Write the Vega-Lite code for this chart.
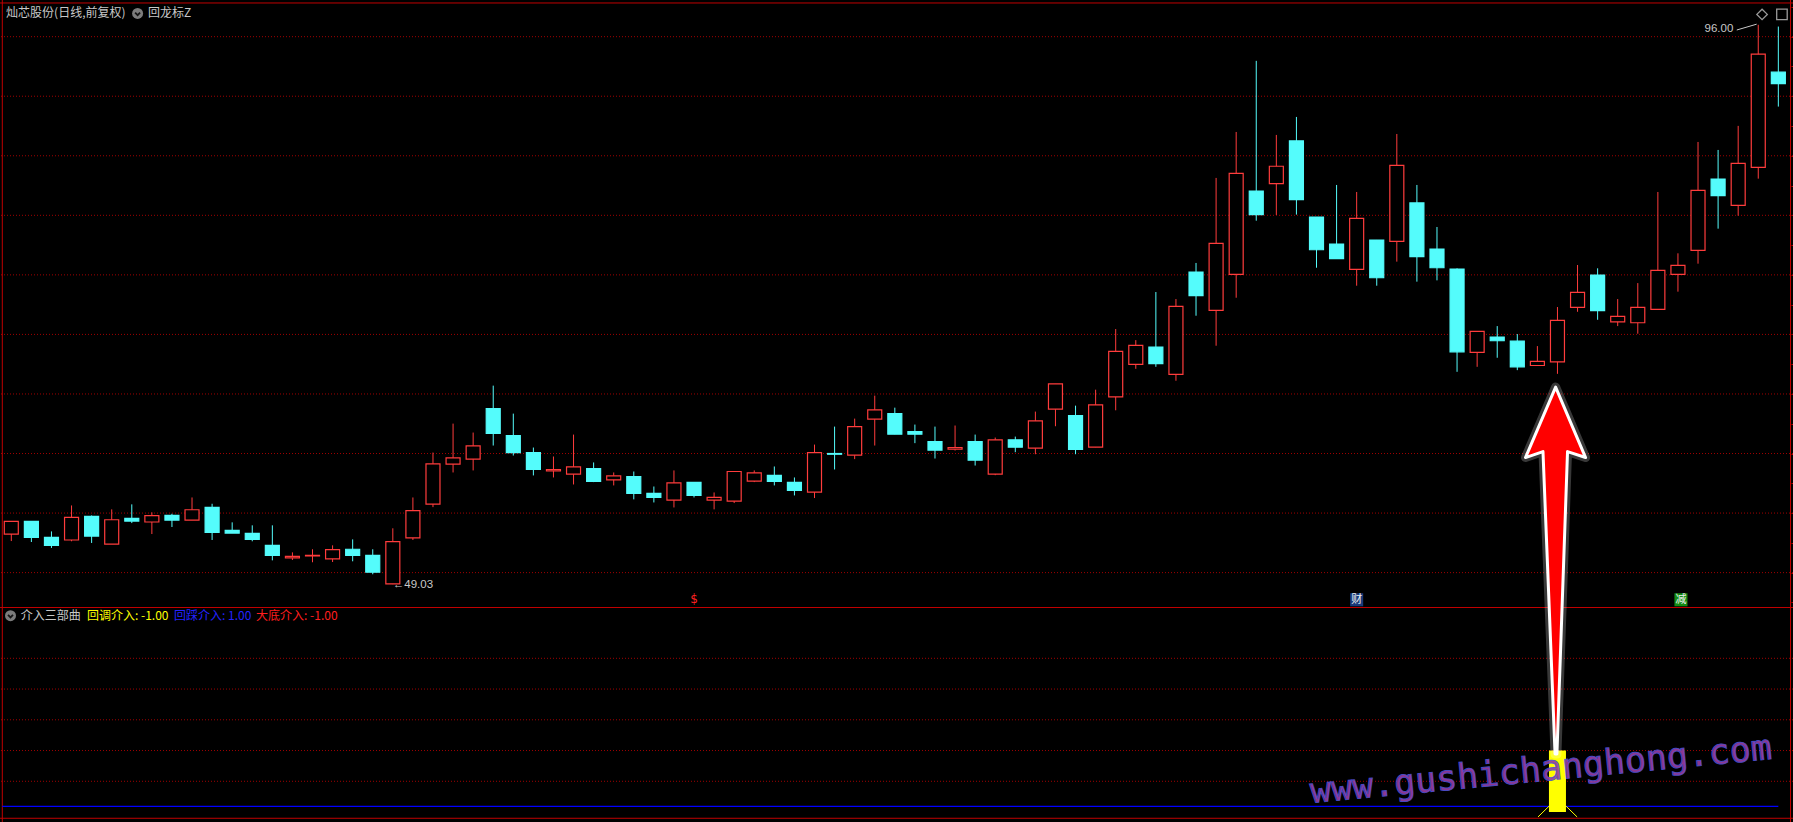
{
"$schema": "https://vega.github.io/schema/vega-lite/v6.json",
"width": 1793, "height": 822,
"autosize": {"type": "none"},
"padding": 0,
"background": "#000000",
"config": {"view": {"stroke": null}, "scale": {"continuousPadding": 0}},
"datasets": {
"candles": [
{"i":0,"o":53.24,"h":54.30,"l":52.65,"c":54.30},
{"i":1,"o":54.30,"h":54.30,"l":52.57,"c":52.96},
{"i":2,"o":52.96,"h":53.46,"l":52.07,"c":52.29},
{"i":3,"o":52.74,"h":55.64,"l":52.63,"c":54.64},
{"i":4,"o":54.72,"h":54.80,"l":52.49,"c":53.07},
{"i":5,"o":52.40,"h":55.31,"l":52.40,"c":54.44},
{"i":6,"o":54.55,"h":55.73,"l":54.16,"c":54.33},
{"i":7,"o":54.25,"h":55.06,"l":53.24,"c":54.78},
{"i":8,"o":54.80,"h":54.94,"l":53.83,"c":54.41},
{"i":9,"o":54.41,"h":56.31,"l":54.41,"c":55.28},
{"i":10,"o":55.47,"h":55.78,"l":52.74,"c":53.38},
{"i":11,"o":53.55,"h":54.22,"l":53.32,"c":53.32},
{"i":12,"o":53.30,"h":53.97,"l":52.63,"c":52.79},
{"i":13,"o":52.29,"h":53.97,"l":51.03,"c":51.45},
{"i":14,"o":51.23,"h":51.70,"l":51.06,"c":51.37},
{"i":15,"o":51.40,"h":51.96,"l":50.87,"c":51.45},
{"i":16,"o":51.15,"h":52.29,"l":50.89,"c":51.93},
{"i":17,"o":51.96,"h":52.79,"l":50.95,"c":51.45},
{"i":18,"o":51.45,"h":51.96,"l":49.86,"c":50.03},
{"i":19,"o":49.05,"h":53.72,"l":49.03,"c":52.60},
{"i":20,"o":52.91,"h":56.31,"l":52.74,"c":55.20},
{"i":21,"o":55.75,"h":60.08,"l":55.50,"c":59.13},
{"i":22,"o":59.11,"h":62.51,"l":58.41,"c":59.64},
{"i":23,"o":59.53,"h":61.76,"l":58.58,"c":60.64},
{"i":24,"o":63.77,"h":65.70,"l":60.67,"c":61.68},
{"i":25,"o":61.51,"h":63.35,"l":59.83,"c":60.08},
{"i":26,"o":60.08,"h":60.50,"l":58.16,"c":58.66},
{"i":27,"o":58.55,"h":59.75,"l":57.99,"c":58.66},
{"i":28,"o":58.27,"h":61.59,"l":57.40,"c":58.88},
{"i":29,"o":58.74,"h":59.25,"l":57.60,"c":57.65},
{"i":30,"o":57.79,"h":58.41,"l":57.32,"c":58.13},
{"i":31,"o":58.07,"h":58.49,"l":56.15,"c":56.65},
{"i":32,"o":56.65,"h":57.23,"l":55.89,"c":56.31},
{"i":33,"o":56.09,"h":58.58,"l":55.47,"c":57.54},
{"i":34,"o":57.57,"h":57.57,"l":56.31,"c":56.48},
{"i":35,"o":56.09,"h":56.73,"l":55.31,"c":56.31},
{"i":36,"o":56.01,"h":58.49,"l":55.84,"c":58.49},
{"i":37,"o":57.68,"h":58.58,"l":57.60,"c":58.38},
{"i":38,"o":58.16,"h":58.91,"l":57.32,"c":57.65},
{"i":39,"o":57.57,"h":57.99,"l":56.48,"c":56.90},
{"i":40,"o":56.76,"h":60.75,"l":56.26,"c":60.08},
{"i":41,"o":60.00,"h":62.26,"l":58.66,"c":59.94},
{"i":42,"o":59.86,"h":62.93,"l":59.53,"c":62.26},
{"i":43,"o":62.88,"h":64.86,"l":60.67,"c":63.66},
{"i":44,"o":63.35,"h":63.85,"l":61.62,"c":61.62},
{"i":45,"o":61.84,"h":62.43,"l":60.87,"c":61.62},
{"i":46,"o":61.01,"h":62.26,"l":59.58,"c":60.28},
{"i":47,"o":60.36,"h":62.35,"l":60.25,"c":60.50},
{"i":48,"o":61.01,"h":61.59,"l":58.99,"c":59.44},
{"i":49,"o":58.27,"h":61.34,"l":58.18,"c":61.15},
{"i":50,"o":61.15,"h":61.42,"l":60.11,"c":60.53},
{"i":51,"o":60.45,"h":63.52,"l":59.94,"c":62.74},
{"i":52,"o":63.72,"h":65.84,"l":62.29,"c":65.84},
{"i":53,"o":63.18,"h":64.02,"l":59.94,"c":60.34},
{"i":54,"o":60.53,"h":65.36,"l":60.53,"c":64.08},
{"i":55,"o":64.75,"h":70.45,"l":63.63,"c":68.57},
{"i":56,"o":67.48,"h":69.52,"l":67.11,"c":69.08},
{"i":57,"o":68.94,"h":73.56,"l":67.28,"c":67.54},
{"i":58,"o":66.64,"h":72.97,"l":66.11,"c":72.35},
{"i":59,"o":75.24,"h":76.00,"l":71.57,"c":73.25},
{"i":60,"o":72.02,"h":83.14,"l":69.05,"c":77.65},
{"i":61,"o":75.04,"h":87.00,"l":73.08,"c":83.53},
{"i":62,"o":82.04,"h":92.97,"l":79.55,"c":80.06},
{"i":63,"o":82.66,"h":86.75,"l":80.03,"c":84.12},
{"i":64,"o":86.25,"h":88.26,"l":80.06,"c":81.32},
{"i":65,"o":79.86,"h":79.86,"l":75.60,"c":77.11},
{"i":66,"o":77.59,"h":82.55,"l":76.36,"c":76.36},
{"i":67,"o":75.46,"h":81.96,"l":74.09,"c":79.75},
{"i":68,"o":77.93,"h":77.93,"l":74.09,"c":74.76},
{"i":69,"o":77.82,"h":86.83,"l":76.11,"c":84.20},
{"i":70,"o":81.04,"h":82.55,"l":74.43,"c":76.53},
{"i":71,"o":77.17,"h":79.02,"l":74.54,"c":75.60},
{"i":72,"o":75.49,"h":75.55,"l":66.86,"c":68.54},
{"i":73,"o":68.49,"h":70.25,"l":67.28,"c":70.25},
{"i":74,"o":69.78,"h":70.70,"l":68.04,"c":69.47},
{"i":75,"o":69.44,"h":70.03,"l":67.00,"c":67.28},
{"i":76,"o":67.39,"h":69.02,"l":67.39,"c":67.73},
{"i":77,"o":67.70,"h":72.30,"l":66.69,"c":71.18},
{"i":78,"o":72.27,"h":75.83,"l":71.90,"c":73.53},
{"i":79,"o":74.99,"h":75.55,"l":71.23,"c":71.99},
{"i":80,"o":71.06,"h":72.97,"l":70.70,"c":71.51},
{"i":81,"o":70.98,"h":74.31,"l":70.06,"c":72.27},
{"i":82,"o":72.10,"h":81.96,"l":72.10,"c":75.38},
{"i":83,"o":75.04,"h":76.81,"l":73.59,"c":75.80},
{"i":84,"o":77.06,"h":86.16,"l":75.94,"c":82.10},
{"i":85,"o":83.05,"h":85.49,"l":78.88,"c":81.65},
{"i":86,"o":80.84,"h":87.51,"l":79.97,"c":84.37},
{"i":87,"o":84.03,"h":96.00,"l":83.08,"c":93.53},
{"i":88,"o":92.02,"h":95.85,"l":89.13,"c":91.06}
]
},
"resolve": {"scale": {"y": "independent", "color": "independent"}},
"layer": [
{"layer": [
 {"data": {"values": [{"p":50},{"p":55},{"p":60},{"p":65},{"p":70},{"p":75},{"p":80},{"p":85},{"p":90},{"p":95}]},
  "mark": {"type": "rule", "color": "#a00000", "strokeDash": [1, 2], "strokeWidth": 1},
  "encoding": {"y": {"field": "p", "type": "quantitative", "scale": {"domain": [29.06, 98.08], "nice": false, "zero": false, "padding": 0}, "axis": {"orient": "right", "offset": -2, "domain": false, "grid": false, "labels": false, "ticks": true, "tickColor": "#c00000", "tickSize": 3, "values": [47.5,50,52.5,55,57.5,60,62.5,65,67.5,70,72.5,75,77.5,80,82.5,85,87.5,90,92.5,95,97.5], "title": null}}}},
 {"data": {"values": [{"p": 97.83}]},
  "mark": {"type": "rule", "color": "#c00000", "strokeWidth": 1},
  "encoding": {"y": {"field": "p", "type": "quantitative", "scale": {"domain": [29.06, 98.08], "nice": false, "zero": false, "padding": 0}, "axis": {"orient": "right", "offset": -2, "domain": false, "grid": false, "labels": false, "ticks": true, "tickColor": "#c00000", "tickSize": 3, "values": [47.5,50,52.5,55,57.5,60,62.5,65,67.5,70,72.5,75,77.5,80,82.5,85,87.5,90,92.5,95,97.5], "title": null}}}},
 {"data": {"values": [{"i": -0.448}, {"i": 88.607}]},
  "mark": {"type": "rule", "color": "#c00000", "strokeWidth": 1},
  "encoding": {"x": {"field": "i", "type": "quantitative", "scale": {"domain": [-0.563, 88.73], "nice": false, "zero": false, "padding": 0}, "axis": null}}},
 {"data": {"name": "candles"},
  "mark": {"type": "rule", "strokeWidth": 1},
  "encoding": {
   "x": {"field": "i", "type": "quantitative", "scale": {"domain": [-0.563, 88.73], "nice": false, "zero": false, "padding": 0}, "axis": null},
   "y": {"field": "l", "type": "quantitative", "scale": {"domain": [29.06, 98.08], "nice": false, "zero": false, "padding": 0}, "axis": {"orient": "right", "offset": -2, "domain": false, "grid": false, "labels": false, "ticks": true, "tickColor": "#c00000", "tickSize": 3, "values": [47.5,50,52.5,55,57.5,60,62.5,65,67.5,70,72.5,75,77.5,80,82.5,85,87.5,90,92.5,95,97.5], "title": null}},
   "y2": {"field": "h"},
   "color": {"condition": {"test": "datum.c >= datum.o", "value": "#ff3c3c"}, "value": "#54fcfc"}}},
 {"data": {"name": "candles"},
  "mark": {"type": "bar", "size": 14, "strokeWidth": 1.2},
  "encoding": {
   "x": {"field": "i", "type": "quantitative", "scale": {"domain": [-0.563, 88.73], "nice": false, "zero": false, "padding": 0}, "axis": null},
   "y": {"field": "o", "type": "quantitative", "scale": {"domain": [29.06, 98.08], "nice": false, "zero": false, "padding": 0}, "axis": {"orient": "right", "offset": -2, "domain": false, "grid": false, "labels": false, "ticks": true, "tickColor": "#c00000", "tickSize": 3, "values": [47.5,50,52.5,55,57.5,60,62.5,65,67.5,70,72.5,75,77.5,80,82.5,85,87.5,90,92.5,95,97.5], "title": null}},
   "y2": {"field": "c"},
   "fill": {"condition": {"test": "datum.c >= datum.o", "value": "#000000"}, "value": "#54fcfc"},
   "stroke": {"condition": {"test": "datum.c >= datum.o", "value": "#ff3c3c"}, "value": "#54fcfc"}}},
 {"data": {"values": [{"i": 34, "p": 47.2, "t": "$"}]},
  "mark": {"type": "text", "color": "#ff2020", "fontSize": 12, "font": "DejaVu Sans", "baseline": "bottom", "align": "center"},
  "encoding": {
   "x": {"field": "i", "type": "quantitative", "scale": {"domain": [-0.563, 88.73], "nice": false, "zero": false, "padding": 0}, "axis": null},
   "y": {"field": "p", "type": "quantitative", "scale": {"domain": [29.06, 98.08], "nice": false, "zero": false, "padding": 0}, "axis": {"orient": "right", "offset": -2, "domain": false, "grid": false, "labels": false, "ticks": true, "tickColor": "#c00000", "tickSize": 3, "values": [47.5,50,52.5,55,57.5,60,62.5,65,67.5,70,72.5,75,77.5,80,82.5,85,87.5,90,92.5,95,97.5], "title": null}},
   "text": {"field": "t"}}},
 {"data": {"values": [{"i": 67.0, "p": 47.72}]},
  "mark": {"type": "point", "shape": "square", "filled": true, "size": 170, "opacity": 1, "color": "#183a7a"},
  "encoding": {
   "x": {"field": "i", "type": "quantitative", "scale": {"domain": [-0.563, 88.73], "nice": false, "zero": false, "padding": 0}, "axis": null},
   "y": {"field": "p", "type": "quantitative", "scale": {"domain": [29.06, 98.08], "nice": false, "zero": false, "padding": 0}, "axis": {"orient": "right", "offset": -2, "domain": false, "grid": false, "labels": false, "ticks": true, "tickColor": "#c00000", "tickSize": 3, "values": [47.5,50,52.5,55,57.5,60,62.5,65,67.5,70,72.5,75,77.5,80,82.5,85,87.5,90,92.5,95,97.5], "title": null}}}},
 {"data": {"values": [{"i": 83.15, "p": 47.72}]},
  "mark": {"type": "point", "shape": "square", "filled": true, "size": 170, "opacity": 1, "color": "#148c14"},
  "encoding": {
   "x": {"field": "i", "type": "quantitative", "scale": {"domain": [-0.563, 88.73], "nice": false, "zero": false, "padding": 0}, "axis": null},
   "y": {"field": "p", "type": "quantitative", "scale": {"domain": [29.06, 98.08], "nice": false, "zero": false, "padding": 0}, "axis": {"orient": "right", "offset": -2, "domain": false, "grid": false, "labels": false, "ticks": true, "tickColor": "#c00000", "tickSize": 3, "values": [47.5,50,52.5,55,57.5,60,62.5,65,67.5,70,72.5,75,77.5,80,82.5,85,87.5,90,92.5,95,97.5], "title": null}}}},
 {"data": {"values": [{"i": 67.0, "p": 47.72, "t": "财"}, {"i": 83.15, "p": 47.72, "t": "减"}]},
  "mark": {"type": "text", "color": "#eeeeee", "fontSize": 11, "font": "Noto Sans CJK SC", "baseline": "middle", "align": "center"},
  "encoding": {
   "x": {"field": "i", "type": "quantitative", "scale": {"domain": [-0.563, 88.73], "nice": false, "zero": false, "padding": 0}, "axis": null},
   "y": {"field": "p", "type": "quantitative", "scale": {"domain": [29.06, 98.08], "nice": false, "zero": false, "padding": 0}, "axis": {"orient": "right", "offset": -2, "domain": false, "grid": false, "labels": false, "ticks": true, "tickColor": "#c00000", "tickSize": 3, "values": [47.5,50,52.5,55,57.5,60,62.5,65,67.5,70,72.5,75,77.5,80,82.5,85,87.5,90,92.5,95,97.5], "title": null}},
   "text": {"field": "t"}}},
 {"data": {"values": [{"i": 85.76, "p": 95.65, "t": "96.00"}]},
  "mark": {"type": "text", "color": "#c8c8c8", "fontSize": 11.5, "font": "Liberation Sans", "baseline": "middle", "align": "right"},
  "encoding": {
   "x": {"field": "i", "type": "quantitative", "scale": {"domain": [-0.563, 88.73], "nice": false, "zero": false, "padding": 0}, "axis": null},
   "y": {"field": "p", "type": "quantitative", "scale": {"domain": [29.06, 98.08], "nice": false, "zero": false, "padding": 0}, "axis": {"orient": "right", "offset": -2, "domain": false, "grid": false, "labels": false, "ticks": true, "tickColor": "#c00000", "tickSize": 3, "values": [47.5,50,52.5,55,57.5,60,62.5,65,67.5,70,72.5,75,77.5,80,82.5,85,87.5,90,92.5,95,97.5], "title": null}},
   "text": {"field": "t"}}},
 {"data": {"values": [{"i": 85.93, "p": 95.56, "i2": 86.92, "p2": 96.05}]},
  "mark": {"type": "rule", "color": "#c8c8c8", "strokeWidth": 1},
  "encoding": {
   "x": {"field": "i", "type": "quantitative", "scale": {"domain": [-0.563, 88.73], "nice": false, "zero": false, "padding": 0}, "axis": null},
   "x2": {"field": "i2"},
   "y": {"field": "p", "type": "quantitative", "scale": {"domain": [29.06, 98.08], "nice": false, "zero": false, "padding": 0}, "axis": {"orient": "right", "offset": -2, "domain": false, "grid": false, "labels": false, "ticks": true, "tickColor": "#c00000", "tickSize": 3, "values": [47.5,50,52.5,55,57.5,60,62.5,65,67.5,70,72.5,75,77.5,80,82.5,85,87.5,90,92.5,95,97.5], "title": null}},
   "y2": {"field": "p2"}}},
 {"data": {"values": [{"i": 19.0, "p": 48.95, "t": "←49.03"}]},
  "mark": {"type": "text", "color": "#c8c8c8", "fontSize": 11.5, "font": "Liberation Sans, DejaVu Sans", "baseline": "middle", "align": "left"},
  "encoding": {
   "x": {"field": "i", "type": "quantitative", "scale": {"domain": [-0.563, 88.73], "nice": false, "zero": false, "padding": 0}, "axis": null},
   "y": {"field": "p", "type": "quantitative", "scale": {"domain": [29.06, 98.08], "nice": false, "zero": false, "padding": 0}, "axis": {"orient": "right", "offset": -2, "domain": false, "grid": false, "labels": false, "ticks": true, "tickColor": "#c00000", "tickSize": 3, "values": [47.5,50,52.5,55,57.5,60,62.5,65,67.5,70,72.5,75,77.5,80,82.5,85,87.5,90,92.5,95,97.5], "title": null}},
   "text": {"field": "t"}}},
 {"data": {"values": [{"i": -0.26, "p": 96.95, "t": "灿芯股份(日线,前复权)"}, {"i": 6.81, "p": 96.95, "t": "回龙标Z"}]},
  "mark": {"type": "text", "color": "#c8c8c8", "fontSize": 12, "font": "Noto Sans CJK SC", "baseline": "middle", "align": "left"},
  "encoding": {
   "x": {"field": "i", "type": "quantitative", "scale": {"domain": [-0.563, 88.73], "nice": false, "zero": false, "padding": 0}, "axis": null},
   "y": {"field": "p", "type": "quantitative", "scale": {"domain": [29.06, 98.08], "nice": false, "zero": false, "padding": 0}, "axis": {"orient": "right", "offset": -2, "domain": false, "grid": false, "labels": false, "ticks": true, "tickColor": "#c00000", "tickSize": 3, "values": [47.5,50,52.5,55,57.5,60,62.5,65,67.5,70,72.5,75,77.5,80,82.5,85,87.5,90,92.5,95,97.5], "title": null}},
   "text": {"field": "t"}}},
 {"data": {"values": [{"i": 6.29, "p": 96.95}]},
  "mark": {"type": "point", "shape": "circle", "filled": true, "size": 121, "opacity": 1, "color": "#7c7c7c"},
  "encoding": {
   "x": {"field": "i", "type": "quantitative", "scale": {"domain": [-0.563, 88.73], "nice": false, "zero": false, "padding": 0}, "axis": null},
   "y": {"field": "p", "type": "quantitative", "scale": {"domain": [29.06, 98.08], "nice": false, "zero": false, "padding": 0}, "axis": {"orient": "right", "offset": -2, "domain": false, "grid": false, "labels": false, "ticks": true, "tickColor": "#c00000", "tickSize": 3, "values": [47.5,50,52.5,55,57.5,60,62.5,65,67.5,70,72.5,75,77.5,80,82.5,85,87.5,90,92.5,95,97.5], "title": null}}}},
 {"data": {"values": [{"i": 6.29, "p": 96.95}]},
  "mark": {"type": "point", "shape": "M-0.45,-0.15L0,0.3L0.45,-0.15", "filled": false, "size": 121, "opacity": 1, "color": "#161616", "strokeWidth": 1.8},
  "encoding": {
   "x": {"field": "i", "type": "quantitative", "scale": {"domain": [-0.563, 88.73], "nice": false, "zero": false, "padding": 0}, "axis": null},
   "y": {"field": "p", "type": "quantitative", "scale": {"domain": [29.06, 98.08], "nice": false, "zero": false, "padding": 0}, "axis": {"orient": "right", "offset": -2, "domain": false, "grid": false, "labels": false, "ticks": true, "tickColor": "#c00000", "tickSize": 3, "values": [47.5,50,52.5,55,57.5,60,62.5,65,67.5,70,72.5,75,77.5,80,82.5,85,87.5,90,92.5,95,97.5], "title": null}}}},
 {"data": {"values": [{"i": 87.19, "p": 96.87}]},
  "mark": {"type": "point", "shape": "diamond", "filled": false, "size": 110, "opacity": 1, "color": "#9a9a9a", "strokeWidth": 1.3},
  "encoding": {
   "x": {"field": "i", "type": "quantitative", "scale": {"domain": [-0.563, 88.73], "nice": false, "zero": false, "padding": 0}, "axis": null},
   "y": {"field": "p", "type": "quantitative", "scale": {"domain": [29.06, 98.08], "nice": false, "zero": false, "padding": 0}, "axis": {"orient": "right", "offset": -2, "domain": false, "grid": false, "labels": false, "ticks": true, "tickColor": "#c00000", "tickSize": 3, "values": [47.5,50,52.5,55,57.5,60,62.5,65,67.5,70,72.5,75,77.5,80,82.5,85,87.5,90,92.5,95,97.5], "title": null}}}},
 {"data": {"values": [{"i": 88.18, "p": 96.87}]},
  "mark": {"type": "point", "shape": "square", "filled": false, "size": 110, "opacity": 1, "color": "#9a9a9a", "strokeWidth": 1.3},
  "encoding": {
   "x": {"field": "i", "type": "quantitative", "scale": {"domain": [-0.563, 88.73], "nice": false, "zero": false, "padding": 0}, "axis": null},
   "y": {"field": "p", "type": "quantitative", "scale": {"domain": [29.06, 98.08], "nice": false, "zero": false, "padding": 0}, "axis": {"orient": "right", "offset": -2, "domain": false, "grid": false, "labels": false, "ticks": true, "tickColor": "#c00000", "tickSize": 3, "values": [47.5,50,52.5,55,57.5,60,62.5,65,67.5,70,72.5,75,77.5,80,82.5,85,87.5,90,92.5,95,97.5], "title": null}}}}
]},
{"layer": [
 {"data": {"values": [{"v": 1}, {"v": 2}, {"v": 3}, {"v": 4}, {"v": 5}]},
  "mark": {"type": "rule", "color": "#a00000", "strokeDash": [1, 2], "strokeWidth": 1},
  "encoding": {"y": {"field": "v", "type": "quantitative", "scale": {"domain": [-0.324, 26.41], "nice": false, "zero": false, "padding": 0}, "axis": null}}},
 {"data": {"values": [{"v": 6.652}, {"v": -0.203}]},
  "mark": {"type": "rule", "color": "#c00000", "strokeWidth": 1},
  "encoding": {"y": {"field": "v", "type": "quantitative", "scale": {"domain": [-0.324, 26.41], "nice": false, "zero": false, "padding": 0}, "axis": null}}},
 {"data": {"values": [{"i": -0.45, "i2": 88.0, "v": 0.187}]},
  "mark": {"type": "rule", "color": "#0000ff", "strokeWidth": 1.2},
  "encoding": {
   "x": {"field": "i", "type": "quantitative", "scale": {"domain": [-0.563, 88.73], "nice": false, "zero": false, "padding": 0}, "axis": null},
   "x2": {"field": "i2"},
   "y": {"field": "v", "type": "quantitative", "scale": {"domain": [-0.324, 26.41], "nice": false, "zero": false, "padding": 0}, "axis": null}}},
 {"data": {"values": [{"i": 77, "v": 0, "v2": 2}]},
  "mark": {"type": "bar", "size": 17, "color": "#ffff00"},
  "encoding": {
   "x": {"field": "i", "type": "quantitative", "scale": {"domain": [-0.563, 88.73], "nice": false, "zero": false, "padding": 0}, "axis": null},
   "y": {"field": "v", "type": "quantitative", "scale": {"domain": [-0.324, 26.41], "nice": false, "zero": false, "padding": 0}, "axis": null},
   "y2": {"field": "v2"}}},
 {"data": {"values": [{"i": 76.03, "v": -0.16, "i2": 76.58, "v2": 0.19}, {"i": 77.43, "v": 0.19, "i2": 77.98, "v2": -0.16}]},
  "mark": {"type": "rule", "color": "#ffff00", "strokeWidth": 1},
  "encoding": {
   "x": {"field": "i", "type": "quantitative", "scale": {"domain": [-0.563, 88.73], "nice": false, "zero": false, "padding": 0}, "axis": null},
   "x2": {"field": "i2"},
   "y": {"field": "v", "type": "quantitative", "scale": {"domain": [-0.324, 26.41], "nice": false, "zero": false, "padding": 0}, "axis": null},
   "y2": {"field": "v2"}}},
 {"data": {"values": [{"i": -0.04, "v": 6.385}]},
  "mark": {"type": "point", "shape": "circle", "filled": true, "size": 121, "opacity": 1, "color": "#7c7c7c"},
  "encoding": {
   "x": {"field": "i", "type": "quantitative", "scale": {"domain": [-0.563, 88.73], "nice": false, "zero": false, "padding": 0}, "axis": null},
   "y": {"field": "v", "type": "quantitative", "scale": {"domain": [-0.324, 26.41], "nice": false, "zero": false, "padding": 0}, "axis": null}}},
 {"data": {"values": [{"i": -0.04, "v": 6.385}]},
  "mark": {"type": "point", "shape": "M-0.45,-0.15L0,0.3L0.45,-0.15", "filled": false, "size": 121, "opacity": 1, "color": "#161616", "strokeWidth": 1.8},
  "encoding": {
   "x": {"field": "i", "type": "quantitative", "scale": {"domain": [-0.563, 88.73], "nice": false, "zero": false, "padding": 0}, "axis": null},
   "y": {"field": "v", "type": "quantitative", "scale": {"domain": [-0.324, 26.41], "nice": false, "zero": false, "padding": 0}, "axis": null}}},
 {"data": {"values": [{"i": 0.47, "v": 6.385, "t": "介入三部曲"}]},
  "mark": {"type": "text", "fontSize": 12, "font": "Noto Sans CJK SC", "baseline": "middle", "align": "left", "color": "#c8c8c8"},
  "encoding": {
   "x": {"field": "i", "type": "quantitative", "scale": {"domain": [-0.563, 88.73], "nice": false, "zero": false, "padding": 0}, "axis": null},
   "y": {"field": "v", "type": "quantitative", "scale": {"domain": [-0.324, 26.41], "nice": false, "zero": false, "padding": 0}, "axis": null},
   "text": {"field": "t"}}},
 {"data": {"values": [{"i": 3.77, "v": 6.385, "t": "回调介入: -1.00"}]},
  "mark": {"type": "text", "fontSize": 12, "font": "Noto Sans CJK SC", "baseline": "middle", "align": "left", "color": "#ffff00"},
  "encoding": {
   "x": {"field": "i", "type": "quantitative", "scale": {"domain": [-0.563, 88.73], "nice": false, "zero": false, "padding": 0}, "axis": null},
   "y": {"field": "v", "type": "quantitative", "scale": {"domain": [-0.324, 26.41], "nice": false, "zero": false, "padding": 0}, "axis": null},
   "text": {"field": "t"}}},
 {"data": {"values": [{"i": 8.10, "v": 6.385, "t": "回踩介入: 1.00"}]},
  "mark": {"type": "text", "fontSize": 12, "font": "Noto Sans CJK SC", "baseline": "middle", "align": "left", "color": "#2323ff"},
  "encoding": {
   "x": {"field": "i", "type": "quantitative", "scale": {"domain": [-0.563, 88.73], "nice": false, "zero": false, "padding": 0}, "axis": null},
   "y": {"field": "v", "type": "quantitative", "scale": {"domain": [-0.324, 26.41], "nice": false, "zero": false, "padding": 0}, "axis": null},
   "text": {"field": "t"}}},
 {"data": {"values": [{"i": 12.19, "v": 6.385, "t": "大底介入: -1.00"}]},
  "mark": {"type": "text", "fontSize": 12, "font": "Noto Sans CJK SC", "baseline": "middle", "align": "left", "color": "#ff1e1e"},
  "encoding": {
   "x": {"field": "i", "type": "quantitative", "scale": {"domain": [-0.563, 88.73], "nice": false, "zero": false, "padding": 0}, "axis": null},
   "y": {"field": "v", "type": "quantitative", "scale": {"domain": [-0.324, 26.41], "nice": false, "zero": false, "padding": 0}, "axis": null},
   "text": {"field": "t"}}}
]},
{"data": {"values": [{"i": 76.18, "v": 1.37, "t": "www.gushichanghong.com"}]},
 "mark": {"type": "text", "font": "DejaVu Sans Mono", "fontSize": 35, "angle": 354.5, "fill": "#9a3c9e", "stroke": "#5050d0", "strokeWidth": 1, "opacity": 0.92, "align": "center", "baseline": "middle"},
 "encoding": {
  "x": {"field": "i", "type": "quantitative", "scale": {"domain": [-0.563, 88.73], "nice": false, "zero": false, "padding": 0}, "axis": null},
  "y": {"field": "v", "type": "quantitative", "scale": {"domain": [-0.324, 26.41], "nice": false, "zero": false, "padding": 0}, "axis": null},
  "text": {"field": "t"}}},
{"layer": [
 {"data": {"values": [{"i": 76.927, "p": 50.135}]},
  "mark": {"type": "point", "shape": "M-0.002,-0.989L0.159,-0.61L0.062,-0.642L0.005,0.984L-0.005,0.984L-0.07,-0.642L-0.164,-0.61Z", "size": 138384, "filled": false, "opacity": 0.22, "color": "#ffffff", "strokeWidth": 9, "strokeJoin": "round"},
  "encoding": {
   "x": {"field": "i", "type": "quantitative", "scale": {"domain": [-0.563, 88.73], "nice": false, "zero": false, "padding": 0}, "axis": null},
   "y": {"field": "p", "type": "quantitative", "scale": {"domain": [29.06, 98.08], "nice": false, "zero": false, "padding": 0}, "axis": null}}},
 {"data": {"values": [{"i": 76.927, "p": 50.135}]},
  "mark": {"type": "point", "shape": "M-0.002,-0.989L0.159,-0.61L0.062,-0.642L0.005,0.984L-0.005,0.984L-0.07,-0.642L-0.164,-0.61Z", "size": 138384, "filled": true, "opacity": 1, "fill": "#ff0000", "stroke": "#ffffff", "strokeWidth": 3, "strokeJoin": "round"},
  "encoding": {
   "x": {"field": "i", "type": "quantitative", "scale": {"domain": [-0.563, 88.73], "nice": false, "zero": false, "padding": 0}, "axis": null},
   "y": {"field": "p", "type": "quantitative", "scale": {"domain": [29.06, 98.08], "nice": false, "zero": false, "padding": 0}, "axis": null}}}
]}
]
}
